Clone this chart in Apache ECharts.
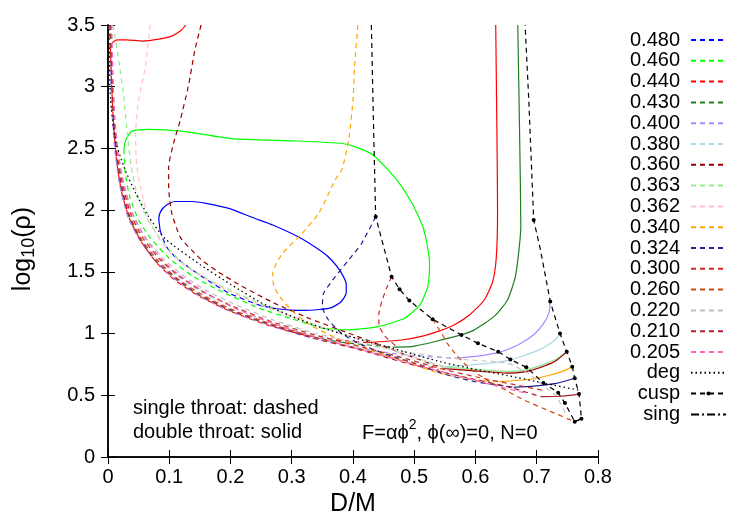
<!DOCTYPE html>
<html>
<head>
<meta charset="utf-8">
<script src="https://cdn.jsdelivr.net/npm/echarts@6/dist/echarts.min.js"></script>
<style>
  html, body { margin: 0; padding: 0; background: #fff; }
  #chart { width: 750px; height: 525px; }
</style>
</head>
<body>
<div id="chart"></div>
<script>
// legend order and colours
const alphas = ['0.480', '0.460', '0.440', '0.430', '0.400', '0.380', '0.360', '0.363', '0.362',
  '0.340', '0.324', '0.300', '0.260', '0.220', '0.210', '0.205'];
const alphaColors = ['#0000ff', '#00ff00', '#ff0000', '#1f7f1f', '#aa88ff', '#add8e6', '#990000', '#90ee90', '#ffc0cb',
  '#ffa500', '#202090', '#cc2a2a', '#cc4b14', '#c0c0c0', '#aa2233', '#ff66bb'];
const xTicks = [0, 0.1, 0.2, 0.3, 0.4, 0.5, 0.6, 0.7, 0.8];
const yTicks = [0, 0.5, 1, 1.5, 2, 2.5, 3, 3.5];

// 0.480
const dash480 = [[0.085, 1.84], [0.088, 1.79], [0.096, 1.70], [0.11, 1.62], [0.131, 1.54], [0.163, 1.43], [0.201, 1.32], [0.247, 1.23]];
const solid480 = [[0.247, 1.23], [0.27, 1.205], [0.3, 1.19], [0.32, 1.188], [0.345, 1.195], [0.365, 1.21], [0.381, 1.26], [0.389, 1.33],
  [0.389, 1.40], [0.38, 1.50], [0.366, 1.59], [0.35, 1.66], [0.312, 1.78], [0.269, 1.88], [0.236, 1.94], [0.2, 2.01], [0.16, 2.055],
  [0.136, 2.07], [0.109, 2.07], [0.095, 2.04], [0.086, 1.99], [0.083, 1.93], [0.085, 1.84]];
// 0.460
const dash460 = [[0.026, 2.49], [0.028, 2.30], [0.036, 2.10], [0.05, 1.92], [0.07, 1.77], [0.1, 1.61], [0.14, 1.46], [0.19, 1.33],
  [0.25, 1.20], [0.3, 1.12], [0.35, 1.043]];
const solid460 = [[0.35, 1.043], [0.393, 1.03], [0.441, 1.056], [0.484, 1.124], [0.509, 1.23], [0.522, 1.38], [0.525, 1.57], [0.52, 1.75],
  [0.514, 1.866], [0.498, 2.04], [0.474, 2.23], [0.433, 2.447], [0.403, 2.515], [0.382, 2.54], [0.309, 2.56], [0.201, 2.58],
  [0.12, 2.64], [0.066, 2.655], [0.039, 2.64], [0.029, 2.57], [0.026, 2.49]];
// 0.440
const dash440 = [[0.004, 3.31], [0.006, 3.0], [0.009, 2.7], [0.014, 2.4], [0.022, 2.15], [0.035, 1.93], [0.055, 1.74], [0.08, 1.57],
  [0.11, 1.43], [0.15, 1.30], [0.2, 1.18], [0.26, 1.07], [0.32, 0.99], [0.37, 0.95], [0.422, 0.926]];
const solid440a = [[0.004, 3.31], [0.008, 3.36], [0.015, 3.38], [0.03, 3.38], [0.056, 3.37], [0.083, 3.385], [0.104, 3.41], [0.12, 3.46], [0.127, 3.5]];
const solid440b = [[0.422, 0.926], [0.479, 0.948], [0.51, 0.975], [0.54, 1.02], [0.565, 1.07], [0.59, 1.15], [0.614, 1.27], [0.628, 1.42],
  [0.634, 1.62], [0.636, 2.0], [0.635, 2.62], [0.633, 3.5]];
// 0.430
const dash430 = [[0.003, 3.5], [0.005, 3.1], [0.008, 2.75], [0.013, 2.45], [0.02, 2.2], [0.033, 1.96], [0.052, 1.77], [0.078, 1.59],
  [0.11, 1.44], [0.15, 1.31], [0.2, 1.19], [0.26, 1.08], [0.32, 0.99], [0.38, 0.93], [0.43, 0.905], [0.465, 0.89]];
const solid430 = [[0.465, 0.89], [0.495, 0.894], [0.533, 0.934], [0.576, 0.989], [0.598, 1.03], [0.63, 1.137], [0.652, 1.27], [0.665, 1.46],
  [0.671, 1.68], [0.674, 1.87], [0.672, 2.62], [0.669, 3.5]];
// 0.400
const dash400 = [[0.002, 3.5], [0.004, 3.1], [0.007, 2.75], [0.012, 2.45], [0.02, 2.18], [0.032, 1.95], [0.05, 1.77], [0.075, 1.6],
  [0.1, 1.48], [0.14, 1.33], [0.19, 1.2], [0.25, 1.09], [0.32, 0.98], [0.4, 0.89], [0.48, 0.83], [0.565, 0.8]];
const solid400 = [[0.565, 0.8], [0.6, 0.815], [0.64, 0.85], [0.67, 0.91], [0.695, 0.99], [0.711, 1.08], [0.72, 1.17], [0.722, 1.26]];
// 0.380
const dash380 = [[0.005, 3.5], [0.007, 3.1], [0.01, 2.75], [0.016, 2.45], [0.025, 2.2], [0.038, 1.97], [0.058, 1.78], [0.085, 1.6],
  [0.115, 1.46], [0.155, 1.33], [0.2, 1.22], [0.26, 1.1], [0.33, 0.99], [0.41, 0.89], [0.49, 0.79], [0.545, 0.73]];
const solid380 = [[0.545, 0.73], [0.59, 0.745], [0.625, 0.76], [0.655, 0.785], [0.678, 0.82], [0.7, 0.86], [0.716, 0.9], [0.73, 0.95], [0.738, 1.0]];
// 0.360
const dash360 = [[0.152, 3.5], [0.142, 3.3], [0.131, 3.0], [0.118, 2.73], [0.107, 2.54], [0.099, 2.35], [0.099, 2.19], [0.104, 1.98],
  [0.118, 1.78], [0.136, 1.68], [0.152, 1.6], [0.18, 1.5], [0.22, 1.38], [0.27, 1.25], [0.33, 1.12], [0.4, 0.99], [0.48, 0.84], [0.55, 0.715]];
const solid360 = [[0.55, 0.715], [0.592, 0.7], [0.652, 0.68], [0.68, 0.69], [0.706, 0.725], [0.73, 0.775], [0.748, 0.848]];
// 0.363
const dash363 = [[0.008, 3.5], [0.018, 3.2], [0.026, 2.9], [0.032, 2.6], [0.038, 2.35], [0.048, 2.12], [0.065, 1.92], [0.09, 1.74],
  [0.12, 1.58], [0.16, 1.45], [0.2, 1.35], [0.26, 1.22], [0.32, 1.1], [0.4, 0.97], [0.48, 0.84], [0.55, 0.73]];
const solid363 = [[0.55, 0.73], [0.592, 0.714], [0.652, 0.694], [0.68, 0.704], [0.706, 0.74], [0.73, 0.79], [0.748, 0.848]];
// 0.362
const dash362 = [[0.069, 3.5], [0.061, 3.16], [0.05, 2.89], [0.045, 2.62], [0.047, 2.35], [0.058, 2.08], [0.072, 1.87], [0.09, 1.72],
  [0.12, 1.57], [0.16, 1.44], [0.2, 1.34], [0.26, 1.21], [0.32, 1.1], [0.4, 0.97], [0.48, 0.84], [0.55, 0.722]];
const solid362 = [[0.55, 0.722], [0.592, 0.707], [0.652, 0.687], [0.68, 0.697], [0.706, 0.732], [0.73, 0.782], [0.748, 0.848]];
// 0.340
const dash340 = [[0.408, 3.5], [0.403, 3.2], [0.4, 2.89], [0.393, 2.57], [0.382, 2.33], [0.371, 2.245], [0.344, 1.975], [0.312, 1.785],
  [0.285, 1.65], [0.269, 1.49], [0.271, 1.38], [0.285, 1.27], [0.306, 1.16], [0.33, 1.07], [0.37, 0.97], [0.42, 0.88], [0.48, 0.78],
  [0.54, 0.68], [0.598, 0.624], [0.638, 0.61]];
const solid340 = [[0.638, 0.61], [0.69, 0.63], [0.722, 0.664], [0.745, 0.7], [0.758, 0.732]];
// 0.324
const dash324 = [[0.437, 1.947], [0.414, 1.73], [0.393, 1.596], [0.371, 1.461], [0.352, 1.326], [0.35, 1.218], [0.36, 1.11], [0.382, 1.0],
  [0.409, 0.921], [0.45, 0.84], [0.5, 0.76], [0.55, 0.67], [0.6, 0.61], [0.662, 0.565]];
const solid324 = [[0.662, 0.565], [0.695, 0.575], [0.732, 0.597], [0.762, 0.638]];
// 0.300
const dash300a = [[0.463, 1.461], [0.455, 1.37], [0.447, 1.26], [0.442, 1.15], [0.443, 1.06], [0.452, 0.98], [0.47, 0.9]];
const dash300b = [[0.005, 3.5], [0.007, 3.1], [0.01, 2.75], [0.015, 2.45], [0.024, 2.2], [0.037, 1.97], [0.056, 1.78], [0.083, 1.61],
  [0.115, 1.47], [0.155, 1.34], [0.2, 1.23], [0.26, 1.11], [0.33, 1.0], [0.4, 0.91], [0.47, 0.82], [0.54, 0.72], [0.6, 0.65],
  [0.66, 0.59], [0.71, 0.54]];
// 0.260
const dash260a = [[0.53, 1.116], [0.545, 1.0], [0.554, 0.92], [0.57, 0.82], [0.59, 0.72], [0.612, 0.645], [0.635, 0.58], [0.68, 0.46],
  [0.722, 0.37], [0.76, 0.29]];
const dash260b = [[0.003, 3.5], [0.006, 3.1], [0.009, 2.75], [0.014, 2.45], [0.022, 2.2], [0.035, 1.96], [0.054, 1.77], [0.08, 1.6],
  [0.112, 1.45], [0.152, 1.32], [0.2, 1.2], [0.26, 1.09], [0.33, 0.98], [0.4, 0.89], [0.47, 0.8], [0.54, 0.71]];
// 0.220
const dash220 = [[0.006, 3.5], [0.008, 3.1], [0.011, 2.75], [0.017, 2.45], [0.027, 2.2], [0.04, 1.98], [0.06, 1.79], [0.088, 1.62],
  [0.12, 1.48], [0.16, 1.35], [0.21, 1.23], [0.27, 1.11], [0.34, 1.0], [0.42, 0.91], [0.5, 0.84], [0.58, 0.79], [0.652, 0.76],
  [0.685, 0.68], [0.706, 0.6], [0.732, 0.49], [0.749, 0.33]];
// 0.210
const dash210 = [[0.004, 3.5], [0.006, 3.1], [0.009, 2.75], [0.014, 2.45], [0.022, 2.19], [0.034, 1.96], [0.053, 1.76], [0.078, 1.59],
  [0.11, 1.45], [0.15, 1.31], [0.2, 1.19], [0.26, 1.08], [0.33, 0.97], [0.41, 0.87], [0.48, 0.77], [0.544, 0.69], [0.598, 0.63],
  [0.652, 0.57], [0.706, 0.489]];
const solid210 = [[0.706, 0.489], [0.738, 0.492], [0.769, 0.51]];
// 0.205
const dash205 = [[0.006, 3.5], [0.008, 3.1], [0.011, 2.75], [0.017, 2.45], [0.026, 2.2], [0.04, 1.97], [0.06, 1.78], [0.088, 1.6],
  [0.12, 1.46], [0.16, 1.33], [0.21, 1.2], [0.27, 1.08], [0.34, 0.97], [0.42, 0.86], [0.5, 0.75], [0.57, 0.66], [0.63, 0.58], [0.68, 0.52]];

// degenerate line
const degLine = [[0.001, 3.5], [0.002, 3.3], [0.004, 2.9], [0.012, 2.57], [0.026, 2.35], [0.045, 2.14], [0.066, 1.95], [0.093, 1.77],
  [0.15, 1.56], [0.2, 1.40], [0.25, 1.25], [0.3, 1.14], [0.344, 1.056], [0.414, 0.95], [0.479, 0.86], [0.544, 0.77], [0.6, 0.71],
  [0.652, 0.66], [0.71, 0.6], [0.77, 0.54]];
// cusp line, left branch down then right branch up
const cuspLine = [[0.43, 3.5], [0.433, 2.8], [0.437, 1.947], [0.463, 1.461], [0.476, 1.359], [0.492, 1.267], [0.53, 1.116], [0.577, 0.989],
  [0.604, 0.921], [0.637, 0.853], [0.657, 0.79], [0.683, 0.727], [0.711, 0.6], [0.735, 0.52], [0.746, 0.437], [0.762, 0.286],
  [0.773, 0.31], [0.769, 0.51], [0.762, 0.638], [0.758, 0.732], [0.749, 0.853], [0.738, 1.0], [0.722, 1.26], [0.706, 1.68],
  [0.695, 1.92], [0.687, 2.89], [0.681, 3.5]];
const cuspNoDot = [0, 1, 23, 25, 26];
const singLine = [[0.762, 0.286], [0.773, 0.31]];

const FONT = '"Liberation Sans", Arial, sans-serif';
const colorOf = (a) => alphaColors[alphas.indexOf(a)];
const DASH = [5, 4];

function curve(name, data, solid) {
  const c = colorOf(name);
  return {
    type: 'line', name, data, symbol: 'none', smooth: 0.2,
    itemStyle: { color: c },
    lineStyle: { color: c, width: 1.2, type: solid ? 'solid' : DASH },
    emphasis: { disabled: true }
  };
}

const series = [
  curve('0.480', dash480), curve('0.480', solid480, true),
  curve('0.460', dash460), curve('0.460', solid460, true),
  curve('0.440', dash440), curve('0.440', solid440a, true), curve('0.440', solid440b, true),
  curve('0.430', dash430), curve('0.430', solid430, true),
  curve('0.400', dash400), curve('0.400', solid400, true),
  curve('0.380', dash380), curve('0.380', solid380, true),
  curve('0.360', dash360), curve('0.363', dash363), curve('0.362', dash362),
  curve('0.362', solid362, true), curve('0.363', solid363, true), curve('0.360', solid360, true),
  curve('0.340', dash340), curve('0.340', solid340, true),
  curve('0.324', dash324), curve('0.324', solid324, true),
  curve('0.300', dash300a), curve('0.300', dash300b),
  curve('0.260', dash260a), curve('0.260', dash260b),
  curve('0.220', dash220),
  curve('0.210', dash210), curve('0.210', solid210, true),
  curve('0.205', dash205),
  {
    type: 'line', name: 'deg', data: degLine, symbol: 'none', smooth: 0.2,
    itemStyle: { color: '#000' }, lineStyle: { color: '#000', width: 1.3, type: [1.5, 3] }
  },
  {
    type: 'line', name: 'cusp', symbol: 'circle', symbolSize: 4, showSymbol: true,
    data: cuspLine.map((p, i) => cuspNoDot.includes(i) ? { value: p, symbol: 'none' } : p),
    itemStyle: { color: '#000' }, lineStyle: { color: '#000', width: 1.2, type: [5, 4] }
  },
  {
    type: 'line', name: 'sing', data: singLine, symbol: 'none',
    itemStyle: { color: '#000' }, lineStyle: { color: '#000', width: 1.2, type: [8, 3, 2, 3] }
  }
];

const legendData = alphas.concat(['deg', 'sing']).map((n) => ({ name: n }));
legendData.splice(alphas.length + 1, 0, { name: 'cusp', itemStyle: { opacity: 1, color: '#000' } });

const chart = echarts.init(document.getElementById('chart'), null, { renderer: 'canvas' });
const axisLine = { show: true, lineStyle: { color: '#000', width: 1.5 } };
const axisTick = { show: true, inside: true, length: 7, lineStyle: { color: '#000', width: 1 } };

chart.setOption({
  animation: false,
  textStyle: { fontFamily: FONT },
  grid: { left: 104, right: 152, top: 25, bottom: 68, containLabel: false },
  xAxis: [
    {
      type: 'value', min: xTicks[0], max: xTicks[xTicks.length - 1], interval: 0.1, position: 'bottom',
      name: 'D/M', nameLocation: 'middle', nameGap: 30,
      nameTextStyle: { fontSize: 25, color: '#000', fontFamily: FONT },
      axisLine, axisTick, splitLine: { show: false },
      axisLabel: { fontSize: 20, color: '#000', margin: 10, fontFamily: FONT }
    },
    {
      type: 'value', min: xTicks[0], max: xTicks[xTicks.length - 1], interval: 0.1, position: 'top',
      axisLine, axisTick, splitLine: { show: false }, axisLabel: { show: false }
    }
  ],
  yAxis: [
    {
      type: 'value', min: yTicks[0], max: yTicks[yTicks.length - 1], interval: 0.5, position: 'left',
      name: 'log{sub|10}(ρ)', nameLocation: 'middle', nameGap: 70, nameRotate: 90,
      nameTextStyle: {
        fontSize: 25, color: '#000', fontFamily: FONT, lineHeight: 30, padding: [0, 16, 0, 0],
        rich: { sub: { fontSize: 18, verticalAlign: 'bottom', fontFamily: FONT, color: '#000' } }
      },
      axisLine, axisTick, splitLine: { show: false },
      axisLabel: { fontSize: 20, color: '#000', margin: 13, fontFamily: FONT }
    },
    {
      type: 'value', min: yTicks[0], max: yTicks[yTicks.length - 1], interval: 0.5, position: 'right',
      axisLine, axisTick, splitLine: { show: false }, axisLabel: { show: false }
    }
  ],
  legend: {
    data: legendData,
    orient: 'vertical', right: 18, top: 25, align: 'right',
    itemWidth: 35, itemHeight: 5, itemGap: 0.8,
    itemStyle: { opacity: 0 },
    textStyle: { fontSize: 20, color: '#000', fontFamily: FONT, padding: [0, 6, 0, 0] },
    selectedMode: false
  },
  graphic: [
    { type: 'text', left: 133, top: 398, style: { text: 'single throat: dashed', font: '20px ' + FONT, fill: '#000' } },
    { type: 'text', left: 133, top: 422, style: { text: 'double throat: solid', font: '20px ' + FONT, fill: '#000' } },
    {
      type: 'text', left: 362, top: 418,
      style: {
        text: 'F=αϕ{sup|2}, ϕ(∞)=0, N=0', font: '20px ' + FONT, fill: '#000', lineHeight: 30,
        rich: { sup: { fontSize: 14, verticalAlign: 'top', fill: '#000', fontFamily: FONT } }
      }
    }
  ],
  series
});
</script>
</body>
</html>
